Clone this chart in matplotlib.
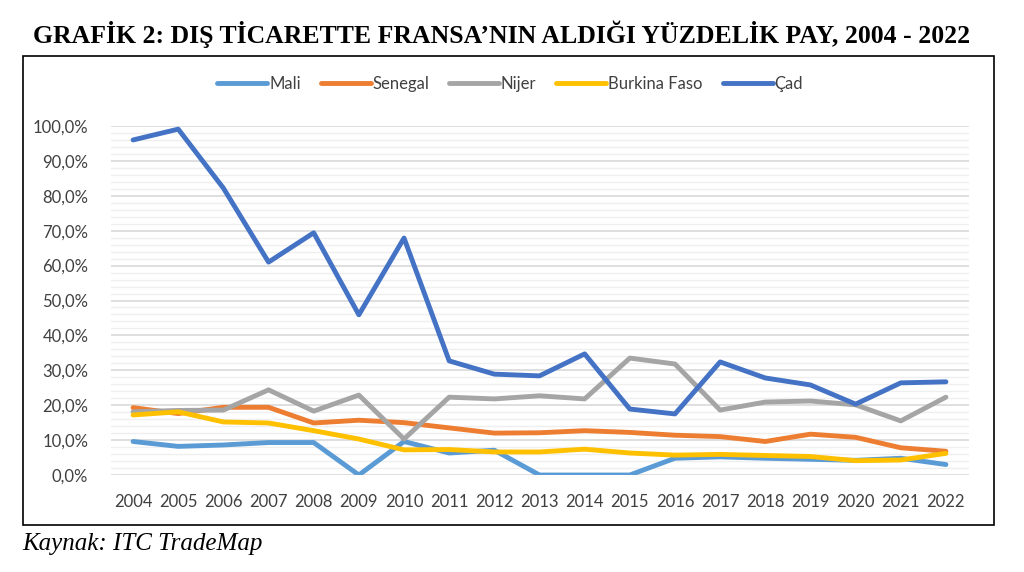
import numpy as np
import matplotlib
matplotlib.use('Agg')
import matplotlib.pyplot as plt
from matplotlib.patches import Rectangle
from matplotlib.ticker import MultipleLocator, FuncFormatter

# data (percent share of France)
years = [str(y) for y in range(2004, 2023)]
mali = [9.6, 8.2, 8.6, 9.3, 9.3, 0.0, 9.6, 6.3, 7.1, 0.0, 0.0, 0.0, 4.8, 5.2, 4.8, 4.5, 4.2, 4.8, 3.0]
senegal = [19.3, 17.6, 19.4, 19.4, 14.9, 15.7, 15.0, 13.5, 12.0, 12.1, 12.7, 12.2, 11.4, 11.0, 9.6, 11.7, 10.8, 7.8, 6.8]
nijer = [18.1, 18.5, 18.6, 24.4, 18.3, 22.9, 10.3, 22.3, 21.8, 22.7, 21.8, 33.5, 31.8, 18.6, 20.9, 21.2, 20.1, 15.5, 22.3]
burkina = [17.2, 18.1, 15.2, 14.9, 12.7, 10.3, 7.2, 7.3, 6.6, 6.6, 7.4, 6.3, 5.7, 5.9, 5.6, 5.3, 4.1, 4.3, 6.2]
cad = [96.0, 99.1, 82.2, 61.0, 69.4, 45.9, 67.9, 32.7, 28.9, 28.4, 34.7, 18.9, 17.5, 32.4, 27.8, 25.8, 20.3, 26.4, 26.7]

series = [('Mali', mali, '#5B9BD5'),
          ('Senegal', senegal, '#ED7D31'),
          ('Nijer', nijer, '#A5A5A5'),
          ('Burkina Faso', burkina, '#FFC000'),
          ('Çad', cad, '#4472C4')]

W, H = 1024, 572
fig = plt.figure(figsize=(W / 100, H / 100), dpi=100)

# outer chart border
fig.patches.append(Rectangle((23 / W, 1 - 525 / H), (994 - 23) / W, (525 - 56) / H,
                             transform=fig.transFigure, fill=False, edgecolor='black', linewidth=1.2))

fig.text(502 / W, 1 - 34 / H, 'GRAFİK 2: DIŞ TİCARETTE FRANSA\u2019NIN ALDIĞI YÜZDELİK PAY, 2004 - 2022',
         ha='center', va='center', fontsize=18.5, fontweight='bold', family='Liberation Serif')
fig.text(22 / W, 1 - 544 / H, 'Kaynak: ITC TradeMap', ha='left', va='center',
         fontsize=18, style='italic', family='Liberation Serif')

ax = fig.add_axes([110.5 / W, 1 - 475 / H, (968.5 - 110.5) / W, (475 - 126) / H])
x = np.arange(len(years))
for name, vals, col in series:
    ax.plot(x, vals, color=col, linewidth=3.5, label=name, solid_capstyle='round', solid_joinstyle='round')

ax.set_xlim(-0.5, len(years) - 0.5)
ax.set_ylim(0, 100)
ax.set_xticks(x)
ax.set_xticklabels(years)
ax.yaxis.set_major_locator(MultipleLocator(10))
ax.yaxis.set_minor_locator(MultipleLocator(2))
ax.yaxis.set_major_formatter(FuncFormatter(lambda v, p: ('%.1f%%' % v).replace('.', ',')))
ax.grid(axis='y', which='major', color='#D9D9D9', linewidth=1.2)
ax.grid(axis='y', which='minor', color='#EFEFEF', linewidth=1.0)
ax.set_axisbelow(True)
for s in ax.spines.values():
    s.set_visible(False)
ax.tick_params(axis='both', which='both', length=0, labelsize=12, labelcolor='#404040')
ax.tick_params(axis='y', pad=16)
ax.tick_params(axis='x', pad=14)
for lab in ax.get_xticklabels() + ax.get_yticklabels():
    lab.set_family('Lato')

ax.legend(loc='center', bbox_to_anchor=(510 / W, 1 - 84 / H), bbox_transform=fig.transFigure,
          ncol=5, frameon=False, prop={'family': 'Lato', 'size': 12}, handlelength=3.0,
          handletextpad=0.1, columnspacing=1.2, labelcolor='#404040')

fig.savefig('out.png', dpi=100)
